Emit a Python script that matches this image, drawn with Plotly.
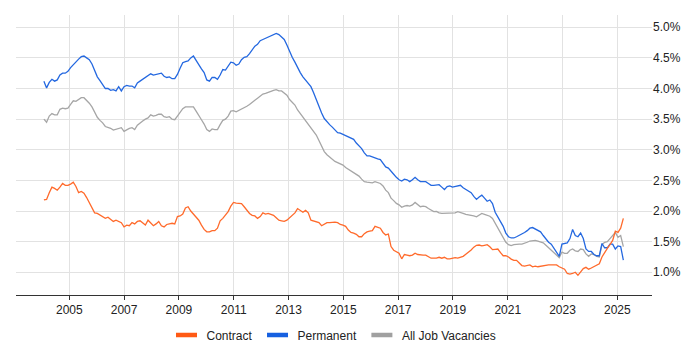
import pandas as pd
import plotly.graph_objects as go

# Sampling dates (regular steps between first and last observation)
start_date = "2004-01-28"
end_date = "2025-03-22"
n_points = 218

contract = [
    2.18, 2.19, 2.30, 2.39, 2.37, 2.34, 2.39, 2.45, 2.42, 2.42, 2.44, 2.47, 2.40, 2.30, 2.32, 2.29, 2.22, 2.14, 2.07, 1.97, 1.96, 1.93, 1.91, 1.88,
    1.90, 1.86, 1.83, 1.85, 1.83, 1.81, 1.74, 1.77, 1.76, 1.81, 1.79, 1.83, 1.84, 1.81, 1.77, 1.85, 1.80, 1.76, 1.79, 1.83, 1.76, 1.74, 1.78, 1.79, 1.80, 1.79,
    1.91, 1.92, 1.95, 2.05, 2.07, 2.00, 1.95, 1.90, 1.85, 1.77, 1.70, 1.66, 1.66, 1.68, 1.68, 1.72, 1.84, 1.88, 1.93, 1.99, 2.08, 2.14, 2.13, 2.13, 2.12,
    2.07, 2.01, 1.96, 1.93, 1.92, 1.88, 1.91, 1.97, 1.95, 1.96, 1.94, 1.93, 1.89, 1.85, 1.84, 1.83, 1.85, 1.89, 1.93, 1.97, 2.04, 2.01, 1.98, 2.01, 1.97, 1.85,
    1.84, 1.83, 1.81, 1.76, 1.78, 1.81, 1.81, 1.82, 1.82, 1.81, 1.78, 1.77, 1.75, 1.69, 1.65, 1.64, 1.62, 1.58, 1.58, 1.63, 1.66, 1.67, 1.68, 1.75, 1.74,
    1.72, 1.65, 1.61, 1.625, 1.42, 1.36, 1.34, 1.31, 1.22, 1.29, 1.28, 1.27, 1.28, 1.31, 1.29, 1.28, 1.28, 1.28, 1.255, 1.23, 1.23, 1.23, 1.245, 1.23, 1.245, 1.22,
    1.22, 1.23, 1.24, 1.23, 1.24, 1.26, 1.295, 1.325, 1.365, 1.41, 1.44, 1.445, 1.43, 1.44, 1.45, 1.415, 1.37, 1.375, 1.38, 1.32, 1.27, 1.27, 1.25, 1.215, 1.195, 1.195, 1.16,
    1.11, 1.10, 1.11, 1.12, 1.09, 1.10, 1.09, 1.10, 1.11, 1.11, 1.12, 1.12, 1.12, 1.12, 1.09, 1.07, 1.05, 0.98, 0.97, 0.98, 1.00, 0.95, 1.00, 1.06, 1.08, 1.05,
    1.07, 1.09, 1.11, 1.14, 1.25, 1.33, 1.39, 1.45, 1.52, 1.67, 1.65, 1.72, 1.88,
]

permanent = [
    4.12, 4.01, 4.10, 4.15, 4.12, 4.14, 4.22, 4.25, 4.25, 4.28, 4.34, 4.39, 4.43, 4.48, 4.52, 4.53, 4.50, 4.47, 4.40, 4.28, 4.19, 4.13, 4.07, 4.00,
    4.00, 3.97, 3.98, 3.96, 4.03, 3.96, 4.03, 4.05, 4.04, 4.04, 4.01, 4.09, 4.12, 4.15, 4.18, 4.20, 4.24, 4.22, 4.23, 4.25, 4.25, 4.20, 4.18, 4.19, 4.16, 4.16,
    4.23, 4.33, 4.42, 4.44, 4.45, 4.50, 4.53, 4.46, 4.38, 4.32, 4.26, 4.14, 4.12, 4.18, 4.18, 4.15, 4.22, 4.31, 4.30, 4.36, 4.43, 4.42, 4.38, 4.40, 4.47,
    4.51, 4.52, 4.57, 4.64, 4.69, 4.72, 4.78, 4.80, 4.82, 4.85, 4.87, 4.89, 4.90, 4.88, 4.84, 4.80, 4.71, 4.60, 4.51, 4.43, 4.33, 4.26, 4.19, 4.13, 4.07, 4.03,
    3.93, 3.81, 3.71, 3.60, 3.51, 3.45, 3.41, 3.37, 3.32, 3.28, 3.27, 3.25, 3.23, 3.22, 3.20, 3.17, 3.11, 3.07, 3.02, 2.95, 2.90, 2.90, 2.88, 2.86, 2.85,
    2.84, 2.78, 2.72, 2.70, 2.64, 2.60, 2.55, 2.51, 2.49, 2.52, 2.51, 2.48, 2.51, 2.55, 2.51, 2.48, 2.48, 2.48, 2.45, 2.42, 2.42, 2.42, 2.43, 2.39, 2.35, 2.40,
    2.41, 2.39, 2.40, 2.42, 2.42, 2.38, 2.35, 2.33, 2.30, 2.24, 2.19, 2.23, 2.26, 2.21, 2.16, 2.18, 2.12, 1.98, 1.90, 1.84, 1.75, 1.64, 1.58, 1.56, 1.56, 1.58, 1.60,
    1.62, 1.65, 1.68, 1.72, 1.73, 1.71, 1.69, 1.66, 1.60, 1.55, 1.49, 1.46, 1.40, 1.33, 1.26, 1.46, 1.47, 1.48, 1.55, 1.70, 1.60, 1.58, 1.64, 1.55, 1.38, 1.34,
    1.34, 1.29, 1.27, 1.27, 1.47, 1.40, 1.40, 1.46, 1.46, 1.38, 1.43, 1.42, 1.20,
]

all_jobs = [
    3.50, 3.45, 3.55, 3.59, 3.57, 3.57, 3.66, 3.68, 3.67, 3.68, 3.74, 3.80, 3.79, 3.82, 3.85, 3.85, 3.81, 3.76, 3.70, 3.62, 3.53, 3.48, 3.44, 3.38,
    3.37, 3.35, 3.32, 3.33, 3.34, 3.36, 3.30, 3.33, 3.35, 3.36, 3.33, 3.40, 3.44, 3.47, 3.50, 3.52, 3.57, 3.55, 3.56, 3.58, 3.58, 3.54, 3.53, 3.54, 3.50, 3.49,
    3.55, 3.62, 3.67, 3.70, 3.70, 3.71, 3.70, 3.63, 3.55, 3.49, 3.42, 3.33, 3.30, 3.34, 3.33, 3.33, 3.41, 3.48, 3.50, 3.55, 3.63, 3.64, 3.62, 3.64, 3.67,
    3.69, 3.71, 3.74, 3.78, 3.81, 3.84, 3.875, 3.91, 3.92, 3.94, 3.96, 3.97, 3.98, 3.96, 3.96, 3.93, 3.89, 3.82, 3.78, 3.73, 3.65, 3.59, 3.53, 3.48, 3.40, 3.35,
    3.30, 3.24, 3.15, 3.05, 2.97, 2.92, 2.88, 2.84, 2.81, 2.79, 2.77, 2.75, 2.71, 2.68, 2.65, 2.62, 2.60, 2.57, 2.52, 2.48, 2.47, 2.47, 2.46, 2.48, 2.47,
    2.45, 2.41, 2.34, 2.30, 2.21, 2.17, 2.125, 2.10, 2.06, 2.08, 2.09, 2.08, 2.10, 2.14, 2.10, 2.07, 2.08, 2.07, 2.04, 2.01, 1.99, 1.995, 1.97, 1.96, 1.96, 1.97,
    1.97, 1.97, 1.97, 1.99, 1.98, 1.96, 1.945, 1.94, 1.935, 1.92, 1.905, 1.94, 1.96, 1.945, 1.925, 1.915, 1.88, 1.80, 1.73, 1.65, 1.57, 1.49, 1.45, 1.435, 1.45, 1.46, 1.46,
    1.46, 1.47, 1.49, 1.51, 1.52, 1.52, 1.51, 1.50, 1.48, 1.44, 1.40, 1.36, 1.33, 1.29, 1.24, 1.33, 1.31, 1.31, 1.36, 1.38, 1.35, 1.34, 1.38, 1.37, 1.30, 1.26,
    1.30, 1.29, 1.26, 1.25, 1.45, 1.49, 1.50, 1.55, 1.61, 1.65, 1.57, 1.60, 1.42,
]

series_names = ["Contract", "Permanent", "All Job Vacancies"]
line_colors = ["#ff6a2b", "#2468e0", "#a6a6a6"]
legend_colors = ["#ff5a14", "#1660e0", "#a0a0a0"]

dates = pd.date_range(start_date, end_date, periods=n_points)

FONT = "Arial, 'Liberation Sans', sans-serif"

fig = go.Figure()
# draw gray first so coloured lines sit on top
order = [2, 1, 0]
values = [contract, permanent, all_jobs]
for idx in order:
    fig.add_trace(go.Scatter(
        x=dates, y=values[idx], mode="lines", name=series_names[idx],
        line=dict(color=line_colors[idx], width=1.3), showlegend=False,
        hoverinfo="skip",
    ))
for idx in range(3):
    fig.add_trace(go.Scatter(
        x=[None], y=[None], mode="markers", name=series_names[idx],
        marker=dict(symbol="line-ew", size=15,
                    line=dict(color=legend_colors[idx], width=4.5)),
        showlegend=True,
    ))

fig.update_layout(
    width=692, height=362,
    margin=dict(l=8, r=48, t=7, b=75),
    paper_bgcolor="white", plot_bgcolor="white",
    font=dict(family=FONT, size=12, color="#222222"),
    showlegend=True,
    legend=dict(orientation="h", x=0.5, xanchor="center", y=-0.143, yanchor="middle",
                font=dict(size=12, color="#222222"), itemwidth=30,
                traceorder="normal", bgcolor="rgba(0,0,0,0)"),
    xaxis=dict(
        type="date",
        range=["2003-01-21", "2026-04-08"],
        tick0="2005-01-01", dtick="M24", tickformat="%Y",
        showgrid=True, gridcolor="#e2e2e2", gridwidth=1,
        showline=True, linecolor="#333333", linewidth=1,
        ticks="outside", ticklen=4, tickcolor="#333333",
        zeroline=False, fixedrange=True,
    ),
    yaxis=dict(
        side="right",
        range=[0.629, 5.20],
        tick0=1.0, dtick=0.5, tickformat=".1f", ticksuffix="%",
        showgrid=True, gridcolor="#e2e2e2", gridwidth=1,
        showline=False, zeroline=False, ticks="",
        fixedrange=True,
    ),
)

fig.write_html("out.html")
